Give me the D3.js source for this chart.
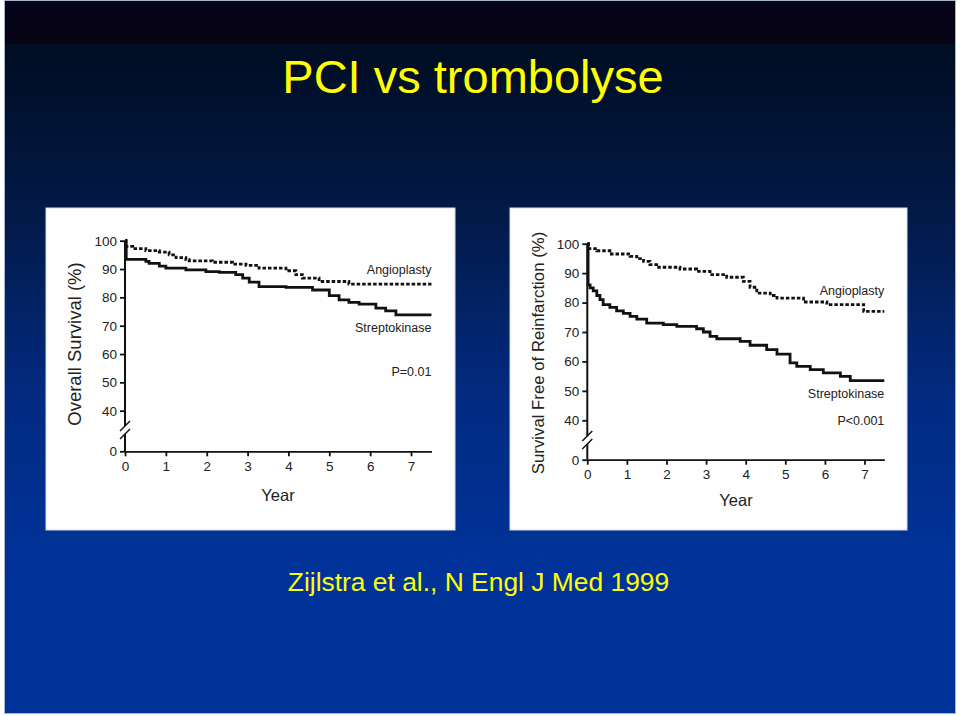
<!DOCTYPE html>
<html><head><meta charset="utf-8">
<script src="https://cdn.jsdelivr.net/npm/d3@7/dist/d3.min.js"></script>
<style>html,body{margin:0;padding:0;background:#fff;}svg{display:block;}</style>
</head><body>
<svg id="c" width="960" height="716"></svg>
<script>
const titleText = "PCI vs trombolyse";
const footerText = "Zijlstra et al., N Engl J Med 1999";
const xTicks = [0,1,2,3,4,5,6,7];
const yTicks = [0,40,50,60,70,80,90,100];

// [year, survival %] step points
const survAngioplasty = [[0,100],[0.02,98],[0.19,97.2],[0.51,96.5],[0.84,96],[1.08,95],[1.25,94],[1.49,93.3],[1.57,92.9],[2.14,92.4],[2.63,91.7],[2.96,91.3],[3.28,90.3],[3.94,89.4],[4.18,88],[4.34,86.8],[4.75,85.6],[5.48,84.7],[7.5,84.7]];
const survStreptokinase = [[0,100],[0.03,93.4],[0.51,92.7],[0.59,92],[0.84,91],[1.0,90.3],[1.49,89.7],[1.98,89.1],[2.31,88.8],[2.71,88],[2.88,86.8],[3.04,85.4],[3.28,83.8],[3.94,83.5],[4.59,82.6],[5.0,80.6],[5.24,79.1],[5.48,78.2],[5.73,77.6],[6.14,76.2],[6.38,75.2],[6.63,73.8],[7.5,73.8]];
const reinfAngioplasty = [[0,100],[0.03,98.3],[0.24,97.6],[0.57,96.5],[1.08,95.7],[1.25,94.9],[1.42,94],[1.58,92.9],[1.75,92],[2.34,91.4],[2.76,90.6],[3.1,89.5],[3.52,88.6],[3.94,87.2],[4.11,85.2],[4.28,83.2],[4.62,82.4],[4.79,81.5],[5.46,80.2],[6.05,79.3],[6.98,77],[7.5,77]];
const reinfStreptokinase = [[0,100],[0.02,86],[0.07,85],[0.15,84],[0.24,82.4],[0.32,81],[0.4,79.3],[0.57,78.4],[0.74,77.2],[0.91,76.3],[1.08,75.3],[1.25,74.4],[1.5,73],[1.92,72.5],[2.26,71.9],[2.76,71.1],[2.93,70],[3.1,68.5],[3.27,67.7],[3.86,66.8],[4.11,65.5],[4.53,64],[4.79,62.5],[5.12,59.5],[5.29,58.3],[5.63,57.2],[5.96,56.1],[6.39,54.9],[6.64,53.5],[7.5,53.5]];

const svg = d3.select("#c");
const defs = svg.append("defs");
const g = defs.append("linearGradient").attr("id","bg").attr("gradientUnits","userSpaceOnUse")
  .attr("x1",0).attr("y1",0).attr("x2",0).attr("y2",716);
[[0,"#07041a"],[0.06,"#050314"],[0.062,"#000d22"],[0.3,"#031a48"],[0.55,"#022a80"],[0.8,"#00339a"],[1,"#00339a"]]
  .forEach(([o,c])=>g.append("stop").attr("offset",o).attr("stop-color",c));

svg.append("rect").attr("width",960).attr("height",716).attr("fill","#ffffff");
svg.append("rect").attr("x",4.5).attr("y",0.5).attr("width",951).attr("height",713)
  .attr("fill","url(#bg)").attr("stroke","#a8b4c8").attr("stroke-width",1);

svg.append("text").text(titleText).attr("x",473).attr("y",93).attr("text-anchor","middle")
  .attr("font-family","Liberation Sans, Arial, sans-serif").attr("font-size",47).attr("fill","#ffff00");
svg.append("text").text(footerText).attr("x",478.5).attr("y",591).attr("text-anchor","middle")
  .attr("font-family","Liberation Sans, Arial, sans-serif").attr("font-size",26.4).attr("fill","#ffff00");

function panel(opt){
  const p = svg.append("g");
  p.append("rect").attr("x",opt.px).attr("y",opt.py).attr("width",opt.pw).attr("height",opt.ph)
    .attr("fill","#fefefe").attr("stroke","#d6e0ee").attr("stroke-width",1);
  const x = d3.scaleLinear().domain([0,7.5]).range([opt.x0, opt.x0 + 7.5*opt.xs]);
  const y = d3.scaleLinear().domain([0,40,100]).range([opt.y0, opt.y40, opt.y100]);
  const font = "Liberation Sans, Arial, sans-serif";

  const xa = p.append("g").attr("transform",`translate(0,${opt.y0})`)
    .call(d3.axisBottom(x).tickValues(xTicks).tickSize(5).tickSizeOuter(0).tickPadding(5));
  xa.selectAll("text").attr("font-family",font).attr("font-size",13.5).attr("fill","#222");
  xa.selectAll("line,path").attr("stroke","#111").attr("stroke-width",1.8);

  const ya = p.append("g").attr("transform",`translate(${opt.x0},0)`)
    .call(d3.axisLeft(y).tickValues(yTicks).tickSize(5).tickPadding(3));
  ya.select("path.domain").remove();
  ya.selectAll("text").attr("font-family",font).attr("font-size",13.5).attr("fill","#222");
  ya.selectAll("line").attr("stroke","#111").attr("stroke-width",1.8);
  const by = opt.brk;
  ya.append("line").attr("x1",0).attr("x2",0).attr("y1",y(100)).attr("y2",by-4).attr("stroke","#111").attr("stroke-width",2);
  ya.append("line").attr("x1",0).attr("x2",0).attr("y1",by+4).attr("y2",y(0)).attr("stroke","#111").attr("stroke-width",2);
  [-4,4].forEach(d=>ya.append("line").attr("x1",-5).attr("y1",by+d+5).attr("x2",5).attr("y2",by+d-5)
    .attr("stroke","#111").attr("stroke-width",1.5));

  const line = d3.line().x(d=>x(d[0])).y(d=>y(d[1])).curve(d3.curveStepAfter);
  p.append("path").datum(opt.angio).attr("d",line).attr("fill","none").attr("stroke","#111")
    .attr("stroke-width",2.8).attr("stroke-dasharray","3.5,2");
  p.append("path").datum(opt.strep).attr("d",line).attr("fill","none").attr("stroke","#111")
    .attr("stroke-width",2.8);

  const xr = x(7.5);
  [["Angioplasty",opt.ta],["Streptokinase",opt.ts],[opt.pText,opt.tp]].forEach(([t,yy])=>
    p.append("text").text(t).attr("x",xr).attr("y",yy).attr("text-anchor","end")
      .attr("font-family",font).attr("font-size",12.5).attr("fill","#222"));
  p.append("text").text("Year").attr("x",opt.yearX).attr("y",opt.yearY).attr("text-anchor","middle")
    .attr("font-family",font).attr("font-size",16.5).attr("fill","#222");
  p.append("text").text(opt.yTitle).attr("text-anchor","middle")
    .attr("transform",`translate(${opt.ytX},${opt.ytY}) rotate(-90)`)
    .attr("font-family",font).attr("font-size",opt.ytSize).attr("fill","#222");
}

panel({px:46,py:208,pw:409,ph:322,x0:125,xs:40.86,y0:451.3,y40:410.7,y100:240.7,brk:430,
  angio:survAngioplasty,strep:survStreptokinase,ta:274,ts:332,tp:376,pText:"P=0.01",
  yearX:278,yearY:501,yTitle:"Overall Survival (%)",ytX:81,ytY:344,ytSize:18.5});
panel({px:510,py:208,pw:397,ph:322,x0:587.3,xs:39.6,y0:459.7,y40:420.3,y100:243.7,brk:440,
  angio:reinfAngioplasty,strep:reinfStreptokinase,ta:295,ts:398,tp:425,pText:"P<0.001",
  yearX:736,yearY:506,yTitle:"Survival Free of Reinfarction (%)",ytX:544,ytY:353,ytSize:16.8});
</script>
</body></html>
